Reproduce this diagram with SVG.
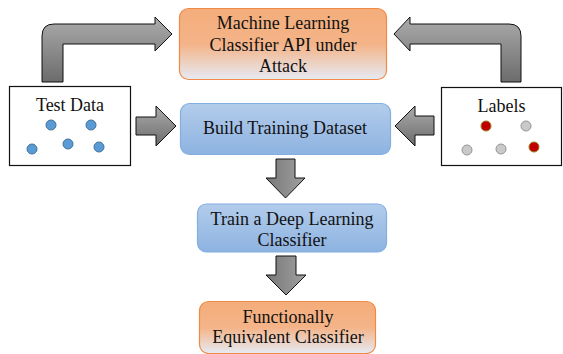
<svg xmlns="http://www.w3.org/2000/svg" width="563" height="354" viewBox="0 0 563 354">
<defs>
<linearGradient id="gOrange" x1="0" y1="0" x2="0" y2="1">
<stop offset="0" stop-color="#F4AD7B"/>
<stop offset="0.5" stop-color="#F4B488"/>
<stop offset="1" stop-color="#E6EAF4"/>
</linearGradient>
<linearGradient id="gBlue" x1="0" y1="0" x2="0" y2="1">
<stop offset="0" stop-color="#B3CCEB"/>
<stop offset="1" stop-color="#8DB3E1"/>
</linearGradient>
<linearGradient id="gArrow" x1="0" y1="0" x2="0" y2="1">
<stop offset="0" stop-color="#ABABAB"/>
<stop offset="1" stop-color="#6C6C6C"/>
</linearGradient>
<linearGradient id="gArrowH" x1="0" y1="0" x2="1" y2="0">
<stop offset="0" stop-color="#787878"/>
<stop offset="1" stop-color="#A0A0A0"/>
</linearGradient>
</defs>
<style>
.t{font-family:"Liberation Serif","Times New Roman",serif;font-size:18px;fill:#111;text-anchor:middle}
.orange{fill:url(#gOrange);stroke:#F08A45;stroke-width:1.2}
.blue{fill:url(#gBlue);stroke:#82AEE0;stroke-width:1.2}
.plain{fill:#fff;stroke:#111;stroke-width:1.2}
.arrow{fill:url(#gArrow);stroke:#111;stroke-width:1}
.arrowv{fill:url(#gArrowH);stroke:#111;stroke-width:1}
.dblue{fill:#5B9BD5;stroke:#41719C;stroke-width:1}
.dgray{fill:#C9C9C9;stroke:#959595;stroke-width:1}
.dred{fill:#C00000;stroke:#9C7A1E;stroke-width:1}
</style>
<g id="connectors">
<path class="arrow" d="M42,82 L42,36 Q42,24 54,24 L155,24 L155,17 L172,34 L155,51 L155,44 L63,44 L63,82 Z"/>
<path class="arrow" d="M521,82 L521,36 Q521,24 509,24 L410,24 L410,17 L394,34 L410,51 L410,44 L501,44 L501,82 Z"/>
<path class="arrow" d="M136,117 L156,117 L156,106 L176,126 L156,146 L156,135 L136,135 Z"/>
<path class="arrow" d="M434,116 L415,116 L415,106 L395,126 L415,146 L415,135 L434,135 Z"/>
<path class="arrowv" d="M276,159 L295,159 L295,178 L305,178 L285.5,198 L266,178 L276,178 Z"/>
<path class="arrowv" d="M276,256 L296,256 L296,275 L306,275 L286,295 L266,275 L276,275 Z"/>
</g>
<g id="api">
<rect class="orange" x="179.5" y="8.5" width="207" height="71" rx="9"/>
<text class="t" x="283" y="29">Machine Learning</text>
<text class="t" x="283" y="51">Classifier API under</text>
<text class="t" x="283" y="72">Attack</text>
</g>
<g id="build">
<rect class="blue" x="180.5" y="103.5" width="210" height="51" rx="9"/>
<text class="t" x="285" y="134">Build Training Dataset</text>
</g>
<g id="train">
<rect class="blue" x="197.5" y="204" width="189" height="48" rx="9"/>
<text class="t" x="292" y="225">Train a Deep Learning</text>
<text class="t" x="292" y="246">Classifier</text>
</g>
<g id="equivalent">
<rect class="orange" x="199.5" y="301.5" width="176" height="52" rx="9"/>
<text class="t" x="288" y="323">Functionally</text>
<text class="t" x="288" y="343">Equivalent Classifier</text>
</g>
<g id="testdata">
<rect class="plain" x="9.5" y="86.5" width="121" height="79"/>
<text class="t" x="70" y="111">Test Data</text>
<circle class="dblue" cx="51" cy="125" r="5"/>
<circle class="dblue" cx="91" cy="125" r="5"/>
<circle class="dblue" cx="32" cy="149" r="5"/>
<circle class="dblue" cx="68" cy="144" r="5"/>
<circle class="dblue" cx="99" cy="147" r="5"/>
</g>
<g id="labels">
<rect class="plain" x="441.5" y="87.5" width="120" height="78"/>
<text class="t" x="501.5" y="112">Labels</text>
<circle class="dred" cx="486" cy="126" r="5"/>
<circle class="dgray" cx="526" cy="126" r="5"/>
<circle class="dgray" cx="467" cy="150" r="5"/>
<circle class="dgray" cx="501" cy="149" r="5"/>
<circle class="dred" cx="534" cy="147" r="5"/>
</g>
</svg>
